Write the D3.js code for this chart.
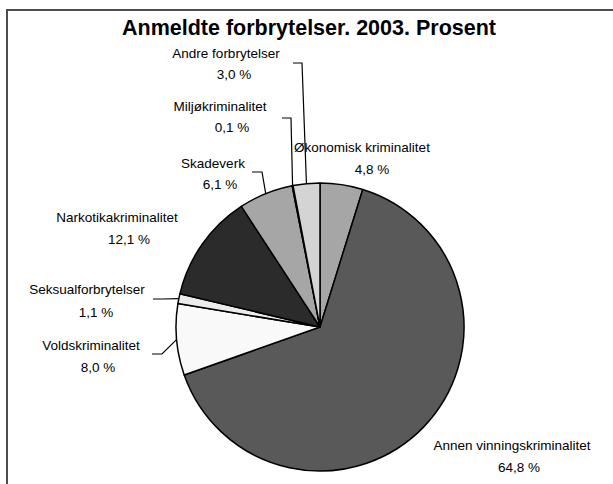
<!DOCTYPE html>
<html>
<head>
<meta charset="utf-8">
<script src="https://cdn.jsdelivr.net/npm/d3@7"></script>
<style>
  body { margin: 0; background: #fff; }
  svg { display: block; }
  text { font-family: "Liberation Sans", Arial, sans-serif; fill: #000; }
</style>
</head>
<body>
<svg id="svg"></svg>
<script>
// data, clockwise from 12 o'clock
const categories = ["Økonomisk kriminalitet", "Annen vinningskriminalitet", "Voldskriminalitet",
  "Seksualforbrytelser", "Narkotikakriminalitet", "Skadeverk", "Miljøkriminalitet", "Andre forbrytelser"]
const values = [4.8, 64.8, 8.0, 1.1, 12.1, 6.1, 0.1, 3.0]
const colors = ["#a6a6a6", "#595959", "#f9f9f9", "#ececec", "#2b2b2b", "#a6a6a6", "#bdbdbd", "#d4d4d4"]

// label placement (line 1 x,y / line 2 x,y) and leader start, by category index
const labelPos = [
  [362, 152, 372, 174],
  [512, 450, 519, 472],
  [91, 350, 98, 372],
  [87, 294, 96, 317],
  [117, 222, 129, 244],
  [213, 168, 220, 189],
  [220, 111, 232, 132],
  [226, 58, 234, 79]
]
const leaders = { 2: [[152, 354], [162, 354]], 3: [[153, 299], [163, 299]],
  5: [[252, 172], [262, 172]], 6: [[282, 118], [291, 118]], 7: [[293, 63], [302, 63]] }

const fmt = v => d3.format(".1f")(v).replace(".", ",") + " %"

const svg = d3.select("#svg").attr("width", 613).attr("height", 484)

svg.append("rect").attr("x", 7).attr("y", 10).attr("width", 700).attr("height", 600)
  .attr("fill", "#fff").attr("stroke", "#4d4d4d").attr("stroke-width", 2)

svg.append("text").attr("x", 309).attr("y", 35).attr("text-anchor", "middle")
  .attr("font-size", 21.5).attr("font-weight", "bold").text("Anmeldte forbrytelser. 2003. Prosent")

const cx = 320, cy = 327, r = 144
const pie = d3.pie().sort(null).value(d => d)
const arcs = pie(values)
const arc = d3.arc().innerRadius(0).outerRadius(r)
const edge = d3.arc().innerRadius(r).outerRadius(r)

const g = svg.append("g").attr("transform", `translate(${cx},${cy})`)
g.selectAll("path.slice")
  .data(arcs)
  .enter()
  .append("path")
  .classed("slice", true)
  .attr("d", arc)
  .attr("fill", (d, i) => colors[i])
  .attr("stroke", "#000")
  .attr("stroke-width", 1.5)
  .attr("stroke-linejoin", "round")

// leader lines
Object.keys(leaders).forEach(k => {
  const p = edge.centroid(arcs[k])
  const pts = leaders[k].concat([[cx + p[0], cy + p[1]]])
  svg.append("path").attr("d", d3.line()(pts)).attr("fill", "none")
    .attr("stroke", "#000").attr("stroke-width", 1.2)
})

const labels = svg.selectAll("g.lab")
  .data(categories)
  .enter()
  .append("g")
  .classed("lab", true)
labels.append("text").attr("x", (d, i) => labelPos[i][0]).attr("y", (d, i) => labelPos[i][1])
  .attr("text-anchor", "middle").attr("font-size", 13.5).text(d => d)
labels.append("text").attr("x", (d, i) => labelPos[i][2]).attr("y", (d, i) => labelPos[i][3])
  .attr("text-anchor", "middle").attr("font-size", 13.5).text((d, i) => fmt(values[i]))
</script>
</body>
</html>
